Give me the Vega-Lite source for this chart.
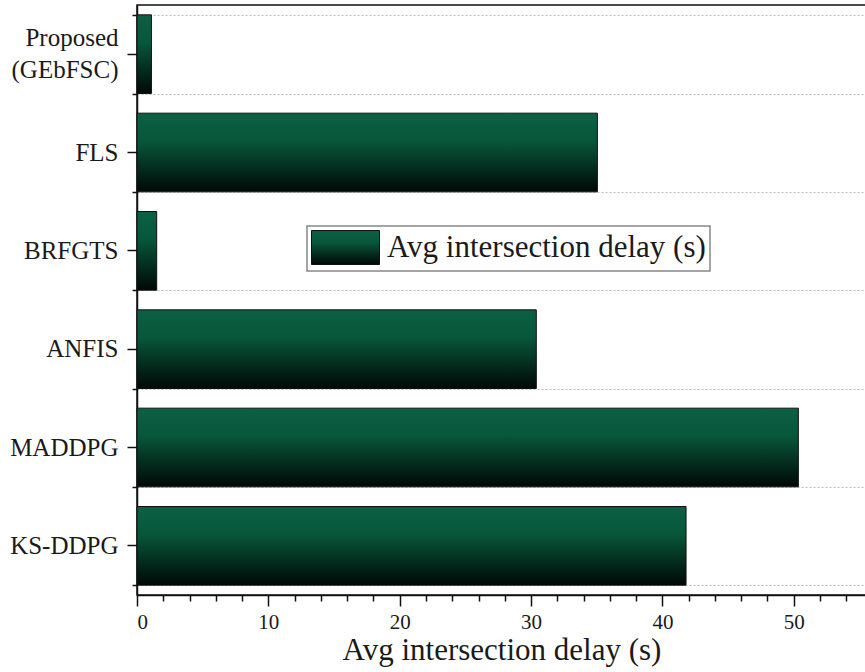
{
  "$schema": "https://vega.github.io/schema/vega-lite/v6.json",
  "autosize": {"type": "none"},
  "padding": {"left": 137, "top": 5, "right": 0, "bottom": 77},
  "width": 729,
  "height": 590,
  "background": "white",
  "config": {
    "font": "Liberation Serif",
    "view": {"stroke": "#111111", "strokeWidth": 1.5},
    "axis": {"labelFont": "Liberation Serif", "titleFont": "Liberation Serif", "labelColor": "#1a1a1a", "titleColor": "#1a1a1a", "domainColor": "#111111", "tickColor": "#111111", "domainWidth": 1.5, "tickWidth": 1.5}
  },
  "data": {
    "values": [
      {"method": "Proposed (GEbFSC)", "delay": 1.1},
      {"method": "FLS", "delay": 35.05},
      {"method": "BRFGTS", "delay": 1.5},
      {"method": "ANFIS", "delay": 30.4},
      {"method": "MADDPG", "delay": 50.35},
      {"method": "KS-DDPG", "delay": 41.8}
    ]
  },
  "layer": [
    {
      "mark": {"type": "bar", "opacity": 0},
      "encoding": {
        "y": {
          "field": "method", "type": "nominal", "sort": null,
          "scale": {"paddingInner": 0.2, "paddingOuter": 0.1},
          "axis": {"orient": "left", "title": null, "labels": false, "domain": false, "tickBand": "extent", "tickSize": 5, "grid": true, "gridColor": "#bdbdbd", "gridDash": [2, 2], "gridWidth": 1}
        },
        "x": {
          "field": "delay", "type": "quantitative",
          "scale": {"domain": [0, 55.5], "nice": false, "zero": true},
          "axis": {"orient": "bottom", "title": null, "labels": false, "domain": false, "grid": false, "values": [2,4,6,8,12,14,16,18,22,24,26,28,32,34,36,38,42,44,46,48,52,54], "tickSize": 6}
        },
        "fill": {
          "datum": "Avg intersection delay (s)",
          "type": "nominal",
          "scale": {"range": [{"expr": "{gradient: 'linear', x1: 0, y1: 0, x2: 0, y2: 1, stops: [{offset: 0, color: '#0b6043'}, {offset: 0.35, color: '#07573b'}, {offset: 1, color: '#000805'}]}"}]},
          "legend": {
            "title": null, "orient": "none", "legendX": 170, "legendY": 221,
            "direction": "vertical",
            "symbolType": "M-2,-1H2V1H-2Z", "symbolSize": 1156, "symbolOffset": 17,
            "symbolStrokeColor": "#111111", "symbolStrokeWidth": 1, "symbolOpacity": 1,
            "labelFontSize": 31, "labelFont": "Liberation Serif", "labelColor": "#1a1a1a", "labelOffset": 24, "labelLimit": 500,
            "strokeColor": "#888888", "fillColor": "white", "padding": 4,
            "encode": {
              "legend": {"update": {"strokeWidth": {"value": 1.5}}},
              "symbols": {"update": {"opacity": {"value": 1}}}
            }
          }
        }
      }
    },
    {
      "mark": {"type": "bar", "stroke": "#111111", "strokeWidth": 1,
        "fill": {"gradient": "linear", "x1": 0, "y1": 0, "x2": 0, "y2": 1, "stops": [{"offset": 0, "color": "#0b6043"}, {"offset": 0.35, "color": "#07573b"}, {"offset": 1, "color": "#000805"}]}},
      "encoding": {
        "y": {
          "field": "method", "type": "nominal", "sort": null,
          "scale": {"paddingInner": 0.2, "paddingOuter": 0.1},
          "axis": {"orient": "left", "title": null, "grid": false, "domain": true, "tickSize": 10, "labelPadding": 9, "labelFontSize": 25, "labelLineHeight": 32,
            "labelOffset": {"condition": {"test": "datum.value === 'Proposed (GEbFSC)'", "value": -16}, "value": 0},
            "labelExpr": "datum.value === 'Proposed (GEbFSC)' ? ['Proposed', '(GEbFSC)'] : datum.value"}
        },
        "x": {
          "field": "delay", "type": "quantitative",
          "scale": {"domain": [0, 55.5], "nice": false, "zero": true},
          "axis": {"orient": "bottom", "title": "Avg intersection delay (s)", "grid": false, "values": [0, 10, 20, 30, 40, 50], "tickSize": 11, "labelPadding": 5, "labelFontSize": 21, "titleFontSize": 31, "titleFontWeight": "normal", "titlePadding": 3}
        }
      }
    }
  ],
  "resolve": {"scale": {"x": "independent", "y": "independent"}, "axis": {"x": "independent", "y": "independent"}}
}
